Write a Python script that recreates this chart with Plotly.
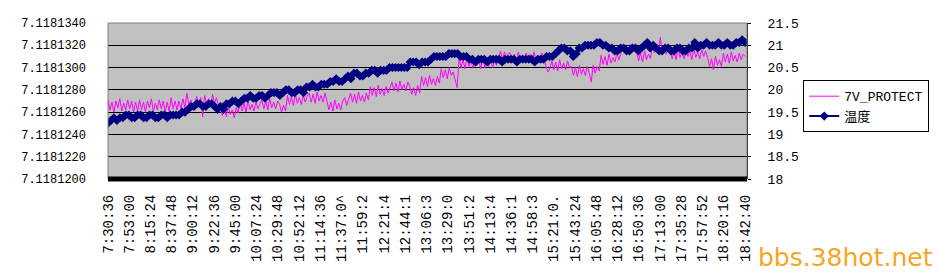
import numpy as np
import plotly.graph_objects as go

# ---- axis labels (category labels as printed by the original chart) ----
tick_labels = [
    "7:30:36", "7:53:00", "8:15:24", "8:37:48", "9:00:12", "9:22:36", "9:45:00",
    "10:07:24", "10:29:48", "10:52:12", "11:14:36", "11:37:0^", "11:59:2", "12:21:4",
    "12:44:1", "13:06:3", "13:29:0", "13:51:2", "14:13:4", "14:36:1", "14:58:3",
    "15:21:0.", "15:43:24", "16:05:48", "16:28:12", "16:50:36", "17:13:00", "17:35:28",
    "17:57:52", "18:20:16", "18:42:40",
]
label_interval_s = 1344          # 22:24 between printed labels
end_s = 40324                    # 7:30:36 -> 18:42:40

# ---- series 1: 7V_PROTECT, offset from 7.11812 V in units of 1e-7 V ----
v7_base = 7.11812
v7_offset_e7 = [
    71, 62, 69, 60, 70, 64, 72, 61, 68, 62, 71, 63, 70, 60, 69, 61,
    71, 62, 69, 60, 70, 64, 72, 61, 68, 62, 71, 63, 70, 60, 69, 61, 73, 63, 70, 62,
    70, 63, 72, 64, 77, 66, 71, 62, 69,
    74, 66, 73, 56, 75, 67, 72, 65, 76, 68, 73, 66,
    64, 57, 63, 56, 65, 58, 62, 55, 64, 59,
    69, 61, 68, 60, 70, 62, 67, 61, 69, 63, 68,
    71, 63, 70, 62, 72, 64, 69, 63, 70,
    67, 60, 66, 61,
    75, 67, 74, 66, 76, 68, 73, 67, 75, 69, 74,
    77, 69, 76, 68, 78, 70, 75, 69, 77,
    70, 62, 69, 61, 71, 63, 68, 62, 70,
    73, 66, 72,
    77, 69, 76, 68, 78, 70, 75, 69, 77, 71,
    83, 75, 82, 74, 84, 76, 81, 75, 83, 77, 82,
    87, 79, 86, 78, 88, 80, 85, 79, 87,
    83, 76, 82, 75, 84, 77,
    92, 84, 91, 83, 93, 85, 90, 84, 92, 86,
    99, 91, 98, 90, 100, 93,
    96, 89, 82,
    108, 100, 107, 99, 109, 101, 106, 100, 108, 102, 107, 99, 109, 100, 106, 101, 108, 100, 107, 102, 108,
    115, 107, 114, 108, 113,
    113, 105, 112, 104, 114, 106, 111, 105, 113, 107, 112, 104, 114, 106, 111, 105, 113, 107,
    101, 96, 99,
    106, 98, 105, 97, 107, 99, 104, 98, 106, 100,
    101, 93, 100, 92, 102, 94, 99, 93, 101, 95, 87,
    102, 95, 101, 97,
    111, 103, 110, 102, 112, 104, 109, 105,
    113, 107, 112,
    120, 113, 119, 112, 121, 114, 118,
    114, 106, 113, 105, 115, 107, 112, 108,
    120, 113, 119, 114, 127, 115, 120, 112, 118,
    116, 108, 115, 107, 117, 109, 114, 108, 116, 110, 115, 107, 117, 109, 114, 108, 116, 110, 115,
    109, 101, 108, 98, 110, 102, 107, 101,
    113, 105, 112, 104, 114, 106, 111, 105, 113, 107, 112, 110,
]

# ---- series 2: 温度, raw sensor counts in 1/16 degC ----
temp_16ths = [
    308, 309, 310, 309,
    310, 310, 311, 311, 310, 310, 311, 311, 310, 310, 311, 311, 310, 310, 311, 311, 310, 311, 311, 311,
    311, 312, 312, 313,
    314, 314, 315, 315, 314, 314, 315, 315, 314,
    313, 314, 313,
    315, 315, 316, 316, 315,
    316, 317, 317, 318, 317, 317,
    318, 318, 317, 318, 319,
    319, 319, 318, 319,
    320, 320, 319, 319, 320, 320, 319,
    321, 321, 322, 321, 321, 322, 322,
    322, 323, 323, 324, 323, 323,
    324, 325, 324,
    326, 326, 325, 325, 326, 326,
    327, 327, 326, 327, 327, 327,
    328, 328, 328, 328, 328, 328, 328,
    330, 330, 330, 329, 330, 330, 330,
    331, 332, 332, 332,
    332, 332,
    333, 333, 333, 333,
    332, 332, 332,
    331, 331, 330, 331, 331, 331, 330, 331, 331, 331, 331, 330, 331,
    331, 331, 331, 330, 331, 331, 331, 331, 331, 330, 331, 331, 331,
    332, 332, 332,
    333, 334, 335, 335, 334, 334,
    332, 333,
    335, 335, 336, 336,
    336, 336, 337, 337, 336,
    336, 335, 335,
    334, 334, 335, 335, 334, 334, 335, 335, 334, 335,
    336, 337,
    335, 336, 335,
    334, 334, 335, 335, 334, 334, 335, 335, 334, 334, 335, 335,
    337,
    335, 336, 336, 337, 336, 336, 336, 337, 336, 336, 337, 336, 336,
    337, 337, 338, 337,
]

v7 = v7_base + np.array(v7_offset_e7) * 1e-7
temp = np.array(temp_16ths) / 16.0
t_v7 = np.linspace(0, end_s, len(v7))
t_temp = np.linspace(0, end_s, len(temp))

mono = "Liberation Mono, Noto Sans CJK SC, monospace"

fig = go.Figure()
fig.add_trace(go.Scatter(
    x=t_v7, y=v7, mode="lines", name="7V_PROTECT",
    line=dict(color="#FF00FF", width=1), hoverinfo="skip",
))
fig.add_trace(go.Scatter(
    x=t_temp, y=temp, mode="lines+markers", name="温度", yaxis="y2",
    line=dict(color="#000080", width=2),
    marker=dict(symbol="diamond", size=7, color="#000080"), hoverinfo="skip",
))

fig.update_layout(
    width=941, height=274,
    margin=dict(l=108, r=186, t=23, b=93),
    paper_bgcolor="white", plot_bgcolor="#C0C0C0",
    font=dict(family=mono, size=13, color="black"),
    showlegend=True,
    legend=dict(
        x=1.088, y=0.633, xanchor="left", yanchor="top",
        bgcolor="white", bordercolor="black", borderwidth=1,
        font=dict(family=mono, size=13, color="black"),
        tracegroupgap=0,
    ),
    xaxis=dict(
        range=[0, end_s * 1.003],
        tickvals=[i * label_interval_s for i in range(len(tick_labels))],
        ticktext=tick_labels, tickangle=-90,
        tickfont=dict(family=mono, size=14, color="black"),
        showgrid=False, zeroline=False, showline=False, ticks="",
        ticklabelstandoff=12,
    ),
    yaxis=dict(
        range=[7.11812 - 1e-11, 7.118134 + 1e-11],
        tick0=7.11812, dtick=0.000002, tickformat=".7f",
        showgrid=True, gridcolor="black", gridwidth=1,
        zeroline=False, showline=False, ticks="",
        ticklabelstandoff=21,
        tickfont=dict(family=mono, size=12, color="black"),
    ),
    yaxis2=dict(
        range=[18, 21.5], tick0=18, dtick=0.5,
        overlaying="y", side="right",
        showgrid=False, zeroline=False,
        showline=True, linecolor="black", linewidth=1,
        ticks="outside", ticklen=3, tickcolor="black",
        ticklabelstandoff=14,
        tickfont=dict(family=mono, size=13, color="black"),
    ),
    shapes=[
        dict(type="rect", xref="paper", yref="paper", x0=0, x1=1, y0=0, y1=1,
             line=dict(color="#808080", width=1), layer="above"),
        dict(type="line", xref="paper", yref="paper", x0=0, x1=1, y0=0, y1=0,
             line=dict(color="black", width=5), layer="above"),
    ],
    annotations=[
        dict(text="bbs.38hot.net", xref="paper", yref="paper",
             x=(764 - 108) / 647, y=-0.50, xanchor="left", yanchor="middle",
             showarrow=False,
             font=dict(family="DejaVu Sans", size=25, color="#F5A623")),
    ],
)

fig.write_html("out.html", config={"displayModeBar": False})
